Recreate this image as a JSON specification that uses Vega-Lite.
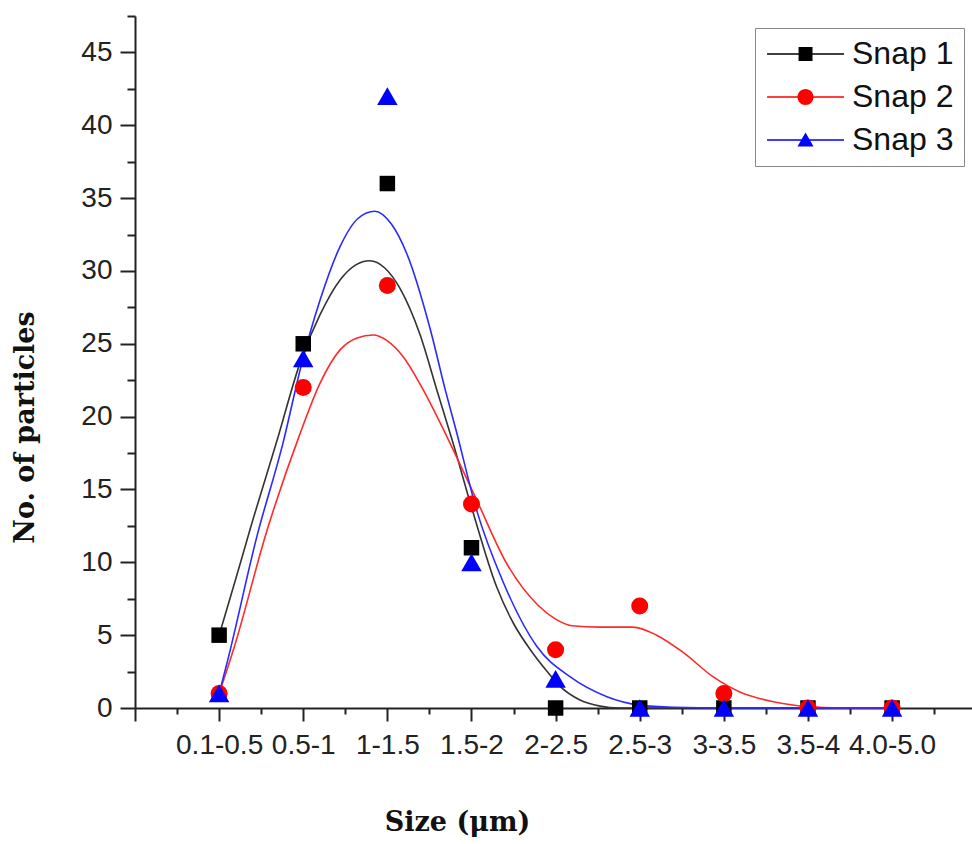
{
  "$schema": "https://vega.github.io/schema/vega-lite/v6.json",
  "width": 837,
  "height": 692,
  "autosize": {"type": "none"},
  "padding": {"left": 135, "top": 16, "right": 0, "bottom": 136},
  "background": "white",
  "config": {
    "view": {"stroke": null},
    "axis": {
      "grid": false,
      "domainColor": "#222",
      "domainWidth": 2,
      "tickColor": "#222",
      "tickWidth": 2,
      "labelFont": "Liberation Sans",
      "labelFontSize": 28,
      "labelColor": "#222",
      "titleFont": "DejaVu Serif",
      "titleFontWeight": "bold",
      "titleFontSize": 27,
      "titleColor": "#111"
    }
  },
  "datasets": {
    "points": [
      {"series": "Snap 1", "bin": "0.1-0.5", "x": 1, "y": 5},
      {"series": "Snap 1", "bin": "0.5-1", "x": 2, "y": 25},
      {"series": "Snap 1", "bin": "1-1.5", "x": 3, "y": 36},
      {"series": "Snap 1", "bin": "1.5-2", "x": 4, "y": 11},
      {"series": "Snap 1", "bin": "2-2.5", "x": 5, "y": 0},
      {"series": "Snap 1", "bin": "2.5-3", "x": 6, "y": 0},
      {"series": "Snap 1", "bin": "3-3.5", "x": 7, "y": 0},
      {"series": "Snap 1", "bin": "3.5-4", "x": 8, "y": 0},
      {"series": "Snap 1", "bin": "4.0-5.0", "x": 9, "y": 0},
      {"series": "Snap 2", "bin": "0.1-0.5", "x": 1, "y": 1},
      {"series": "Snap 2", "bin": "0.5-1", "x": 2, "y": 22},
      {"series": "Snap 2", "bin": "1-1.5", "x": 3, "y": 29},
      {"series": "Snap 2", "bin": "1.5-2", "x": 4, "y": 14},
      {"series": "Snap 2", "bin": "2-2.5", "x": 5, "y": 4},
      {"series": "Snap 2", "bin": "2.5-3", "x": 6, "y": 7},
      {"series": "Snap 2", "bin": "3-3.5", "x": 7, "y": 1},
      {"series": "Snap 2", "bin": "3.5-4", "x": 8, "y": 0},
      {"series": "Snap 2", "bin": "4.0-5.0", "x": 9, "y": 0},
      {"series": "Snap 3", "bin": "0.1-0.5", "x": 1, "y": 1},
      {"series": "Snap 3", "bin": "0.5-1", "x": 2, "y": 24},
      {"series": "Snap 3", "bin": "1-1.5", "x": 3, "y": 42},
      {"series": "Snap 3", "bin": "1.5-2", "x": 4, "y": 10},
      {"series": "Snap 3", "bin": "2-2.5", "x": 5, "y": 2},
      {"series": "Snap 3", "bin": "2.5-3", "x": 6, "y": 0},
      {"series": "Snap 3", "bin": "3-3.5", "x": 7, "y": 0},
      {"series": "Snap 3", "bin": "3.5-4", "x": 8, "y": 0},
      {"series": "Snap 3", "bin": "4.0-5.0", "x": 9, "y": 0}
    ],
    "curves": [
      {"series": "Snap 1", "x": 1.0, "y": 5.0},
      {"series": "Snap 1", "x": 1.2, "y": 8.9},
      {"series": "Snap 1", "x": 1.37, "y": 12.3},
      {"series": "Snap 1", "x": 1.68, "y": 18.2},
      {"series": "Snap 1", "x": 1.98, "y": 24.0},
      {"series": "Snap 1", "x": 2.2, "y": 27.0},
      {"series": "Snap 1", "x": 2.44, "y": 29.4},
      {"series": "Snap 1", "x": 2.62, "y": 30.4},
      {"series": "Snap 1", "x": 2.79, "y": 30.7},
      {"series": "Snap 1", "x": 2.97, "y": 30.2},
      {"series": "Snap 1", "x": 3.15, "y": 28.8},
      {"series": "Snap 1", "x": 3.39, "y": 25.6},
      {"series": "Snap 1", "x": 3.59, "y": 21.8},
      {"series": "Snap 1", "x": 3.78, "y": 18.2},
      {"series": "Snap 1", "x": 4.02, "y": 13.4},
      {"series": "Snap 1", "x": 4.3, "y": 8.3},
      {"series": "Snap 1", "x": 4.5, "y": 5.8},
      {"series": "Snap 1", "x": 4.7, "y": 4.0},
      {"series": "Snap 1", "x": 4.9, "y": 2.5},
      {"series": "Snap 1", "x": 5.05, "y": 1.5},
      {"series": "Snap 1", "x": 5.29, "y": 0.55},
      {"series": "Snap 1", "x": 5.53, "y": 0.13},
      {"series": "Snap 1", "x": 5.75, "y": 0},
      {"series": "Snap 1", "x": 6.5, "y": 0},
      {"series": "Snap 1", "x": 9.0, "y": 0},
      {"series": "Snap 2", "x": 1.0, "y": 1.0},
      {"series": "Snap 2", "x": 1.17, "y": 4.0},
      {"series": "Snap 2", "x": 1.57, "y": 12.2},
      {"series": "Snap 2", "x": 1.96, "y": 18.8},
      {"series": "Snap 2", "x": 2.2, "y": 22.3},
      {"series": "Snap 2", "x": 2.44, "y": 24.6},
      {"series": "Snap 2", "x": 2.64, "y": 25.4},
      {"series": "Snap 2", "x": 2.83, "y": 25.6},
      {"series": "Snap 2", "x": 3.0, "y": 25.2},
      {"series": "Snap 2", "x": 3.19, "y": 24.1},
      {"series": "Snap 2", "x": 3.43, "y": 21.8},
      {"series": "Snap 2", "x": 3.71, "y": 18.6},
      {"series": "Snap 2", "x": 4.06, "y": 14.3},
      {"series": "Snap 2", "x": 4.42, "y": 9.9},
      {"series": "Snap 2", "x": 4.8, "y": 7.0},
      {"series": "Snap 2", "x": 5.0, "y": 6.1},
      {"series": "Snap 2", "x": 5.19, "y": 5.65},
      {"series": "Snap 2", "x": 5.53, "y": 5.55},
      {"series": "Snap 2", "x": 5.92, "y": 5.55},
      {"series": "Snap 2", "x": 6.2, "y": 5.0},
      {"series": "Snap 2", "x": 6.52, "y": 3.8},
      {"series": "Snap 2", "x": 6.87, "y": 2.15},
      {"series": "Snap 2", "x": 7.19, "y": 1.1},
      {"series": "Snap 2", "x": 7.59, "y": 0.43},
      {"series": "Snap 2", "x": 7.99, "y": 0.1},
      {"series": "Snap 2", "x": 8.4, "y": 0},
      {"series": "Snap 2", "x": 9.0, "y": 0},
      {"series": "Snap 3", "x": 1.0, "y": 1.0},
      {"series": "Snap 3", "x": 1.09, "y": 3.0},
      {"series": "Snap 3", "x": 1.45, "y": 11.8},
      {"series": "Snap 3", "x": 1.76, "y": 18.2},
      {"series": "Snap 3", "x": 1.98, "y": 23.6},
      {"series": "Snap 3", "x": 2.2, "y": 28.0},
      {"series": "Snap 3", "x": 2.44, "y": 31.7},
      {"series": "Snap 3", "x": 2.65, "y": 33.6},
      {"series": "Snap 3", "x": 2.85, "y": 34.1},
      {"series": "Snap 3", "x": 3.05, "y": 33.2},
      {"series": "Snap 3", "x": 3.23, "y": 31.2},
      {"series": "Snap 3", "x": 3.51, "y": 26.0},
      {"series": "Snap 3", "x": 3.69, "y": 21.8},
      {"series": "Snap 3", "x": 3.82, "y": 19.0},
      {"series": "Snap 3", "x": 4.06, "y": 13.6},
      {"series": "Snap 3", "x": 4.38, "y": 8.6},
      {"series": "Snap 3", "x": 4.78, "y": 4.2},
      {"series": "Snap 3", "x": 5.17, "y": 2.15},
      {"series": "Snap 3", "x": 5.61, "y": 0.78},
      {"series": "Snap 3", "x": 6.0, "y": 0.2},
      {"series": "Snap 3", "x": 6.4, "y": 0.05},
      {"series": "Snap 3", "x": 7.0, "y": 0},
      {"series": "Snap 3", "x": 9.0, "y": 0}
    ]
  },
  "encoding": {
    "x": {
      "field": "x",
      "type": "quantitative",
      "scale": {"domain": [0, 9.95], "nice": false, "zero": false},
      "axis": {
        "title": "Size (μm)",
        "values": [0, 0.5, 1, 1.5, 2, 2.5, 3, 3.5, 4, 4.5, 5, 5.5, 6, 6.5, 7, 7.5, 8, 8.5, 9, 9.5],
        "labelExpr": "datum.value >= 1 && datum.value % 1 == 0 ? ['0.1-0.5','0.5-1','1-1.5','1.5-2','2-2.5','2.5-3','3-3.5','3.5-4','4.0-5.0'][datum.value - 1] : ''",
        "tickSize": {"condition": {"test": "datum.value % 1 == 0", "value": 13}, "value": 6},
        "labelPadding": 10,
        "labelOverlap": false,
        "labelFlush": false,
        "labelBound": false,
        "titleX": 322,
        "titleY": 122,
        "titleBaseline": "alphabetic",
        "titleAlign": "center"
      }
    },
    "y": {
      "field": "y",
      "type": "quantitative",
      "scale": {"domain": [0, 47.5], "nice": false},
      "axis": {
        "title": "No. of particles",
        "values": [0, 2.5, 5, 7.5, 10, 12.5, 15, 17.5, 20, 22.5, 25, 27.5, 30, 32.5, 35, 37.5, 40, 42.5, 45, 47.5],
        "labelExpr": "datum.value % 5 == 0 ? datum.label : ''",
        "tickSize": {"condition": {"test": "datum.value % 5 == 0", "value": 15}, "value": 8},
        "labelPadding": 8,
        "labelOverlap": false,
        "labelFlush": false,
        "titleX": -102,
        "titleY": 411,
        "titleBaseline": "alphabetic",
        "titleAlign": "center",
        "titleAngle": 270
      }
    }
  },
  "layer": [
    {
      "data": {"name": "curves"},
      "transform": [{"filter": "datum.series == 'Snap 1'"}],
      "mark": {"type": "line", "interpolate": "monotone", "strokeWidth": 1.6, "color": "#333333"}
    },
    {
      "data": {"name": "curves"},
      "transform": [{"filter": "datum.series == 'Snap 2'"}],
      "mark": {"type": "line", "interpolate": "monotone", "strokeWidth": 1.6, "color": "#ff2a2a"}
    },
    {
      "data": {"name": "curves"},
      "transform": [{"filter": "datum.series == 'Snap 3'"}],
      "mark": {"type": "line", "interpolate": "monotone", "strokeWidth": 1.6, "color": "#2a2aff"}
    },
    {
      "data": {"name": "points"},
      "transform": [{"filter": "datum.series == 'Snap 1'"}],
      "mark": {"type": "point", "filled": true, "shape": "square", "size": 240, "color": "#000000", "opacity": 1}
    },
    {
      "data": {"name": "points"},
      "transform": [{"filter": "datum.series == 'Snap 2'"}],
      "mark": {"type": "point", "filled": true, "shape": "circle", "size": 290, "color": "#ff0000", "opacity": 1}
    },
    {
      "data": {"name": "points"},
      "transform": [{"filter": "datum.series == 'Snap 3'"}],
      "mark": {"type": "point", "filled": true, "shape": "triangle-up", "size": 420, "color": "#0000ff", "opacity": 1}
    },
    {
      "data": {"name": "points"},
      "mark": {"type": "point", "filled": true, "opacity": 0},
      "encoding": {
        "color": {
          "field": "series",
          "type": "nominal",
          "scale": {"domain": ["Snap 1", "Snap 2", "Snap 3"], "range": ["#000000", "#ff0000", "#0000ff"]},
          "legend": {
            "title": null,
            "orient": "none",
            "legendX": 620,
            "legendY": 12,
            "padding": 10,
            "strokeColor": "#888888",
            "fillColor": "white",
            "symbolSize": 900,
            "symbolOpacity": 1,
            "symbolStrokeWidth": 0,
            "labelFont": "Liberation Sans",
            "labelFontSize": 32,
            "labelColor": "#111111",
            "labelOffset": 55,
            "rowPadding": 11
          }
        },
        "shape": {
          "field": "series",
          "type": "nominal",
          "scale": {
            "domain": ["Snap 1", "Snap 2", "Snap 3"],
            "range": [
              "M-0.93,-0.053H4.2V0.053H-0.93Z M1.17,-0.467H2.1V0.467H1.17Z",
              "M-0.93,-0.053H4.2V0.053H-0.93Z M1.1,0A0.533,0.533 0 1,1 2.17,0A0.533,0.533 0 1,1 1.1,0Z",
              "M-0.93,-0.053H4.2V0.053H-0.93Z M1.1,0.43L1.634,-0.5L2.17,0.43Z"
            ]
          },
          "legend": {
            "title": null,
            "orient": "none",
            "legendX": 620,
            "legendY": 12,
            "padding": 10,
            "strokeColor": "#888888",
            "fillColor": "white",
            "symbolSize": 900,
            "symbolOpacity": 1,
            "symbolStrokeWidth": 0,
            "labelFont": "Liberation Sans",
            "labelFontSize": 32,
            "labelColor": "#111111",
            "labelOffset": 55,
            "rowPadding": 11
          }
        }
      }
    }
  ]
}
